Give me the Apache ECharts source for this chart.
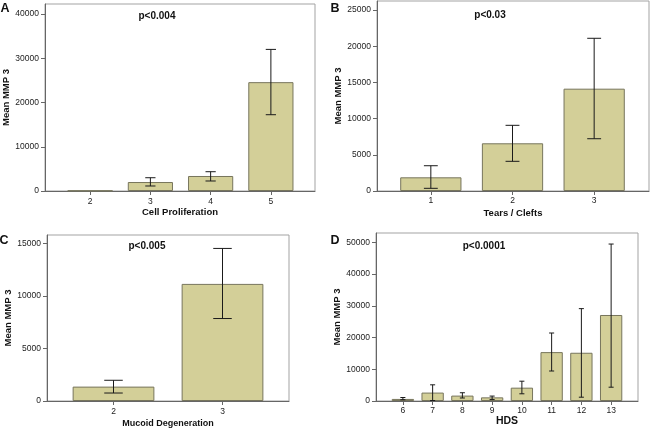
<!DOCTYPE html>
<html>
<head>
<meta charset="utf-8">
<script src="https://cdn.jsdelivr.net/npm/echarts@6/dist/echarts.min.js"></script>
<style>html,body{margin:0;padding:0;background:#fff}#c{width:650px;height:428px}</style>
</head>
<body>
<div id="c"></div>
<script>
// ---- Data ----
var catsA = ['2', '3', '4', '5'];
var meanA = [80, 2030, 3390, 24600];
var lowA  = [null, 1130, 2260, 17240];
var highA = [null, 3000, 4360, 32000];
var yTicksA = [0, 10000, 20000, 30000, 40000];

var catsB = ['1', '2', '3'];
var meanB = [1890, 6590, 14130];
var lowB  = [370, 4100, 7220];
var highB = [3490, 9070, 21090];
var yTicksB = [0, 5000, 10000, 15000, 20000, 25000];

var catsC = ['2', '3'];
var meanC = [1370, 11160];
var lowC  = [760, 7860];
var highC = [1975, 14540];
var yTicksC = [0, 5000, 10000, 15000];

var catsD = ['6', '7', '8', '9', '10', '11', '12', '13'];
var meanD = [650, 2650, 1700, 1150, 4200, 15400, 15200, 27100];
var lowD  = [400, 150, 950, 450, 2270, 9450, 1200, 4350];
var highD = [1100, 5100, 2600, 1550, 6240, 21420, 29100, 49450];
var yTicksD = [0, 10000, 20000, 30000, 40000, 50000];

// ---- Styles ----
var FONT = '"Liberation Sans", Arial, sans-serif';
var BAR_FILL = '#d3cf98';
var BAR_EDGE = '#77755c';
var ERR = '#1a1a1a';
var AXIS = '#666666';
var FRAME = '#a3a3a3';

var panels = [
  {cats: catsA, mean: meanA, low: lowA, high: highA, ticks: yTicksA, max: 42260,
   frame: {left: 45, top: 4, width: 270, height: 187}, bars: {left: 60, width: 241},
   xName: 'Cell Proliferation', xNameSize: 9.5, xNameGap: 16, xLabelMargin: 6, yNameGap: 30},
  {cats: catsB, mean: meanB, low: lowB, high: highB, ticks: yTicksB, max: 26240,
   frame: {left: 377, top: 1, width: 272, height: 190}, bars: {left: 390, width: 245},
   xName: 'Tears / Clefts', xNameSize: 9.5, xNameGap: 17, xLabelMargin: 5.5, yNameGap: 34},
  {cats: catsC, mean: meanC, low: lowC, high: highC, ticks: yTicksC, max: 15820,
   frame: {left: 47, top: 235, width: 242, height: 166}, bars: {left: 59, width: 218},
   xName: 'Mucoid Degeneration', xNameSize: 9, xNameGap: 18, xLabelMargin: 6, yNameGap: 27},
  {cats: catsD, mean: meanD, low: lowD, high: highD, ticks: yTicksD, max: 52930,
   frame: {left: 376, top: 233, width: 262, height: 168}, bars: {left: 388, width: 238},
   xName: 'HDS', xNameSize: 10.5, xNameGap: 15, xLabelMargin: 5, yNameGap: 31}
];

var grids = [], xAxes = [], yAxes = [], series = [];

function errRender(params, api) {
  var lo = api.value(1), hi = api.value(2);
  if (lo == null || hi == null || isNaN(lo) || isNaN(hi)) return null;
  var pLo = api.coord([api.value(0), lo]);
  var pHi = api.coord([api.value(0), hi]);
  var band = api.size([1, 0])[0];
  var hw = band * 0.085;
  var st = {stroke: ERR, lineWidth: 1};
  return {
    type: 'group',
    children: [
      {type: 'line', shape: {x1: pLo[0], y1: pLo[1], x2: pHi[0], y2: pHi[1]}, style: st},
      {type: 'line', shape: {x1: pHi[0] - hw, y1: pHi[1], x2: pHi[0] + hw, y2: pHi[1]}, style: st},
      {type: 'line', shape: {x1: pLo[0] - hw, y1: pLo[1], x2: pLo[0] + hw, y2: pLo[1]}, style: st}
    ]
  };
}

panels.forEach(function (p, i) {
  var gFrame = grids.length;
  grids.push({left: p.frame.left, top: p.frame.top, width: p.frame.width, height: p.frame.height,
    show: true, borderColor: FRAME, borderWidth: 1, backgroundColor: 'transparent', outerBoundsMode: 'none'});
  var gBars = grids.length;
  grids.push({left: p.bars.left, top: p.frame.top, width: p.bars.width, height: p.frame.height,
    show: false, outerBoundsMode: 'none'});

  // frame axes
  xAxes.push({gridIndex: gFrame, type: 'value', min: 0, max: 1, position: 'bottom',
    axisLine: {show: true, lineStyle: {color: AXIS, width: 1}}, axisTick: {show: false},
    axisLabel: {show: false}, splitLine: {show: false},
    name: p.xName, nameLocation: 'middle', nameGap: p.xNameGap,
    nameTextStyle: {fontFamily: FONT, fontWeight: 'bold', fontSize: p.xNameSize, color: '#111'}});
  yAxes.push({gridIndex: gFrame, type: 'value', min: 0, max: p.max, position: 'left',
    axisLine: {show: true, lineStyle: {color: AXIS, width: 1}},
    axisTick: {show: true, length: 4, lineStyle: {color: AXIS}, customValues: p.ticks},
    axisLabel: {show: true, customValues: p.ticks, margin: 6, fontFamily: FONT, fontSize: 8.5, color: '#222',
      formatter: function (v) { return String(v); }},
    splitLine: {show: false},
    name: 'Mean MMP 3', nameLocation: 'middle', nameGap: p.yNameGap,
    nameTextStyle: {fontFamily: FONT, fontWeight: 'bold', fontSize: 9.5, color: '#111'}});

  // bar axes
  var xb = xAxes.length;
  xAxes.push({gridIndex: gBars, type: 'category', data: p.cats, position: 'bottom',
    axisLine: {show: false},
    axisTick: {show: true, alignWithLabel: true, interval: 0, length: 4, lineStyle: {color: AXIS}},
    axisLabel: {show: true, interval: 0, margin: p.xLabelMargin, fontFamily: FONT, fontSize: 8.5, color: '#222'},
    splitLine: {show: false}});
  var yb = yAxes.length;
  yAxes.push({gridIndex: gBars, type: 'value', min: 0, max: p.max, show: false, splitLine: {show: false}});

  series.push({type: 'bar', xAxisIndex: xb, yAxisIndex: yb, data: p.mean, barWidth: '75%',
    itemStyle: {color: BAR_FILL, borderColor: BAR_EDGE, borderWidth: 1}, silent: true, animation: false});
  series.push({type: 'custom', xAxisIndex: xb, yAxisIndex: yb, renderItem: errRender,
    data: p.cats.map(function (c, k) { return [k, p.low[k], p.high[k]]; }),
    encode: {x: 0, y: [1, 2]}, silent: true, animation: false, z: 5});
});

function txt(x, y, s, size) {
  return {type: 'text', x: x, y: y, style: {text: s, fontFamily: FONT, fontWeight: 'bold', fontSize: size,
    fill: '#111', textAlign: 'center', textVerticalAlign: 'middle'}};
}

var chart = echarts.init(document.getElementById('c'), null, {renderer: 'canvas'});
chart.setOption({
  animation: false,
  backgroundColor: '#ffffff',
  grid: grids,
  xAxis: xAxes,
  yAxis: yAxes,
  series: series,
  graphic: [
    txt(5, 9, 'A', 12.5), txt(335, 9, 'B', 12.5), txt(4, 241, 'C', 12.5), txt(335, 241, 'D', 12.5),
    txt(157, 16, 'p<0.004', 10), txt(490, 15, 'p<0.03', 10),
    txt(147, 246, 'p<0.005', 10), txt(484, 246, 'p<0.0001', 10)
  ]
});
</script>
</body>
</html>
